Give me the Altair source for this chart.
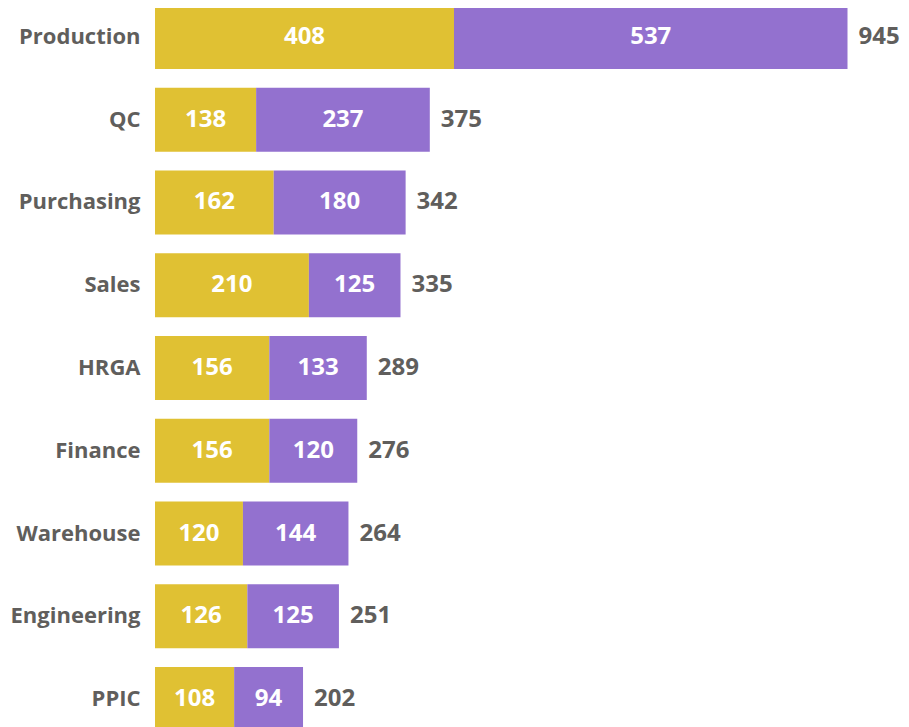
import altair as alt
import pandas as pd

categories = ["Production", "QC", "Purchasing", "Sales", "HRGA", "Finance",
              "Warehouse", "Engineering", "PPIC"]
series_a = [408, 138, 162, 210, 156, 156, 120, 126, 108]
series_b = [537, 237, 180, 125, 133, 120, 144, 125, 94]
series_names = ["A", "B"]
colors = ["#E0C133", "#9371CF"]

rows = []
for c, a, b in zip(categories, series_a, series_b):
    rows.append({"cat": c, "series": series_names[0], "value": a, "start": 0, "end": a})
    rows.append({"cat": c, "series": series_names[1], "value": b, "start": a, "end": a + b})
df = pd.DataFrame(rows)
df["mid"] = (df["start"] + df["end"]) / 2
tot = pd.DataFrame({"cat": categories, "total": [a + b for a, b in zip(series_a, series_b)]})

FONT = "Open Sans"
xs = alt.Scale(domain=[0, 1018], nice=False, zero=True)
ys = alt.Scale(domain=categories, range=[-3, 723], paddingInner=0.2266, paddingOuter=0)

y_enc = alt.Y("cat:N", scale=ys, sort=categories, title=None,
              axis=alt.Axis(domain=False, ticks=False, labelPadding=15,
                            labelFont=FONT, labelFontSize=22, labelFontWeight="bold",
                            labelColor="#605E5C", labelLimit=300))

bars = alt.Chart(df).mark_bar().encode(
    x=alt.X("start:Q", scale=xs, axis=None),
    x2="end:Q",
    y=y_enc,
    color=alt.Color("series:N", scale=alt.Scale(domain=series_names, range=colors), legend=None),
)

inner = alt.Chart(df).mark_text(font=FONT, fontSize=24, fontWeight="bold", color="white",
                                baseline="middle", align="center").encode(
    x=alt.X("mid:Q", scale=xs, axis=None),
    y=alt.Y("cat:N", scale=ys, sort=categories),
    text="value:Q",
)

totals = alt.Chart(tot).mark_text(font=FONT, fontSize=24, fontWeight="bold", color="#605E5C",
                                  baseline="middle", align="left", dx=11).encode(
    x=alt.X("total:Q", scale=xs, axis=None),
    y=alt.Y("cat:N", scale=ys, sort=categories),
    text="total:Q",
)

chart = alt.layer(bars, inner, totals).properties(
    width=746, height=719,
    autosize=alt.AutoSizeParams(type="none"),
    padding={"left": 147, "top": 0, "right": 0, "bottom": 0},
).configure_view(stroke=None)

chart.save("out.html", embed_options={"renderer": "svg", "actions": False})
